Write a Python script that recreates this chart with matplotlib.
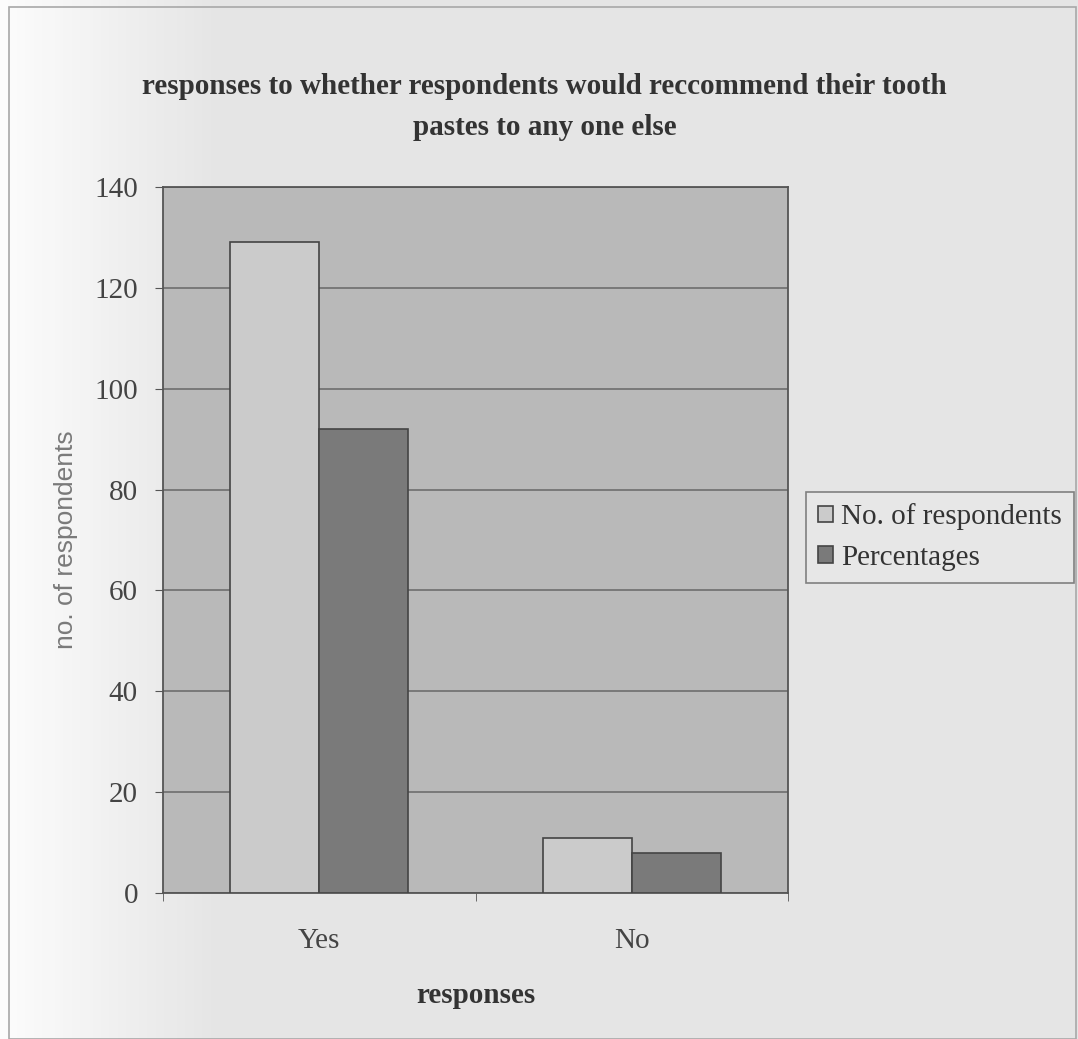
import numpy as np
import matplotlib.pyplot as plt
from matplotlib.patches import Rectangle

# Data
categories = ['Yes', 'No']
respondents = [129, 11]
percentages = [92, 8]

plt.rcParams['font.family'] = ['Liberation Serif', 'DejaVu Serif']

fig = plt.figure(figsize=(10.78, 10.39), dpi=100)

# background with light gradient (whitish on the left, grey on the right)
bg = fig.add_axes([0, 0, 1, 1], zorder=-10)
t = np.clip(np.linspace(0, 1, 256) * 5, 0, 1)
lo = np.array([0.99, 0.99, 0.99])
hi = np.array([0.90, 0.90, 0.90])
img = lo[None, None, :] * (1 - t[None, :, None]) + hi[None, None, :] * t[None, :, None]
bg.imshow(img, aspect='auto', extent=[0, 1, 0, 1])
bg.set_xlim(0, 1)
bg.set_ylim(0, 1)
bg.axis('off')
fig.patches.append(Rectangle((0.008, 0.0), 0.99, 0.993, transform=fig.transFigure,
                             fill=False, edgecolor='#a8a8a8', lw=1.2))

ax = fig.add_axes([0.1512, 0.1405, 0.5798, 0.6795])
ax.set_facecolor('#b9b9b9')

x = np.arange(len(categories))
w = 0.285
ax.bar(x - w / 2, respondents, w, color='#cbcbcb', edgecolor='#444444', lw=1.2,
       label='No. of respondents', zorder=3)
ax.bar(x + w / 2, percentages, w, color='#7a7a7a', edgecolor='#444444', lw=1.2,
       label='Percentages', zorder=3)

ax.set_xlim(-0.5, 1.5)
ax.set_ylim(0, 140)
ax.set_yticks(range(0, 141, 20))
ax.yaxis.grid(True, color='#6e6e6e', lw=1.2)
ax.set_axisbelow(True)
ax.set_xticks(x)
ax.set_xticklabels(categories, fontsize=21, color='#444444')
ax.set_xticks([-0.5, 0.5, 1.5], minor=True)
ax.tick_params(axis='x', which='major', length=0, pad=25)
ax.tick_params(axis='x', which='minor', length=6, color='#555555')
ax.tick_params(axis='y', length=6, color='#555555', labelsize=21,
               labelcolor='#444444', pad=12)
for s in ax.spines.values():
    s.set_color('#555555')
    s.set_linewidth(1.3)

ax.set_ylabel('no. of respondents', fontsize=19, color='#7a7a7a',
              family=['Liberation Sans', 'DejaVu Sans'], labelpad=12)
ax.set_xlabel('responses', fontsize=21, fontweight='bold', color='#333333',
              labelpad=20)

fig.text(0.505, 0.897, 'responses to whether respondents would reccommend their tooth\npastes to any one else',
         ha='center', va='center', fontsize=21, fontweight='bold', color='#333333',
         linespacing=1.7)

leg = fig.legend(loc='center left', bbox_to_anchor=(0.748, 0.483), fontsize=21,
                 frameon=True, fancybox=False, edgecolor='#666666',
                 handlelength=0.5, handleheight=0.5, handletextpad=0.3,
                 borderpad=0.4, labelspacing=0.5, borderaxespad=0)
leg.get_frame().set_facecolor('#e8e8e8')
leg.get_frame().set_linewidth(1.2)
for t in leg.get_texts():
    t.set_color('#333333')

fig.savefig('out.png', dpi=100)
